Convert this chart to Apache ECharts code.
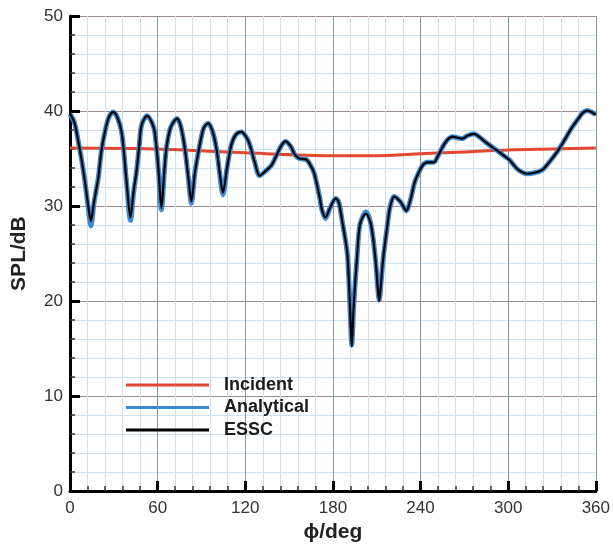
<!DOCTYPE html>
<html>
<head>
<meta charset="utf-8">
<script src="https://cdn.jsdelivr.net/npm/echarts@6/dist/echarts.min.js"></script>
<style>
html,body{margin:0;padding:0;background:#fff;}
#c{width:613px;height:548px;}
</style>
</head>
<body>
<div id="c"></div>
<script>
// ---- data ----
const xTicks = [0, 60, 120, 180, 240, 300, 360];
const yTicks = [0, 10, 20, 30, 40, 50];

const phiIncident = [0, 60, 120, 180, 210, 240, 270, 300, 330, 360];
const splIncident = [36.1, 36.0, 35.6, 35.3, 35.3, 35.5, 35.7, 35.9, 36.0, 36.1];

const phiESSC = [0, 3, 5.7, 8, 10.2, 12.5, 14.3, 16.5, 19.4, 21.5, 23.9, 26.5, 29.6, 32.5, 35.3, 37, 38.7, 41.4, 43.5, 45.5, 47.5, 49, 52.8, 56, 58, 60.5, 62.6, 64.5, 66, 69, 73.3, 76, 78.6, 81, 83.1, 85.5, 88.8, 91.5, 94.5, 97.5, 100.2, 102.5, 104.7, 107.5, 110.4, 113.5, 117.3, 120.5, 123, 126.5, 129.8, 134, 138, 141, 144.5, 147.5, 151, 154, 157, 161.7, 165, 167.3, 170.8, 172.5, 174.9, 178, 182, 184, 186.5, 189, 190.1, 191.7, 192.9, 194.2, 196.5, 198.6, 202.6, 206, 209, 210.8, 211.7, 213, 214.5, 217.4, 219, 222, 226.5, 230.2, 233, 236, 239, 241.5, 244.5, 249, 252, 255, 258, 261.8, 265, 268.7, 272, 276.6, 280, 284, 289.1, 293.7, 297, 300.5, 302.8, 307, 313, 318, 323.3, 328, 333.5, 338, 343.8, 348, 351, 354, 357, 360];
const splESSC = [39.7, 38.8, 36.8, 34.8, 32.6, 30.0, 28.4, 30.5, 33.0, 35.8, 37.8, 39.3, 39.9, 39.3, 37.8, 35.5, 32.6, 28.8, 31.5, 33.6, 36.5, 38.5, 39.5, 38.8, 37.8, 34.0, 29.8, 33.5, 36.1, 38.3, 39.2, 38.3, 36.1, 33.0, 30.5, 33.5, 36.4, 38.2, 38.7, 37.9, 36.1, 33.5, 31.4, 34.0, 36.4, 37.5, 37.8, 37.3, 36.5, 34.6, 33.2, 33.7, 34.3, 35.2, 36.3, 36.8, 36.3, 35.4, 35.0, 34.9, 34.2, 33.4, 31.0, 29.6, 28.8, 29.8, 30.8, 30.4, 28.3, 26.0, 24.6, 19.4, 15.2, 19.4, 24.6, 28.1, 29.2, 28.1, 24.6, 21.2, 20.0, 22.0, 24.6, 28.1, 29.8, 31.0, 30.4, 29.5, 30.6, 32.5, 33.6, 34.3, 34.6, 34.6, 35.3, 36.2, 36.9, 37.3, 37.2, 37.1, 37.4, 37.6, 37.3, 36.8, 36.2, 35.7, 35.3, 34.9, 34.5, 33.8, 33.4, 33.5, 33.8, 34.6, 35.7, 36.8, 38.3, 39.2, 39.8, 40.05, 39.9, 39.6];

const phiAnalytical = phiESSC;
const splAnalytical = [39.7, 38.8, 36.8, 34.8, 32.6, 29.8, 27.9, 30.4, 33.0, 35.8, 37.8, 39.3, 39.9, 39.3, 37.8, 35.5, 32.5, 28.5, 31.4, 33.6, 36.5, 38.5, 39.5, 38.8, 37.8, 33.9, 29.6, 33.4, 36.1, 38.3, 39.2, 38.3, 36.1, 33.0, 30.3, 33.5, 36.4, 38.2, 38.7, 37.9, 36.1, 33.4, 31.2, 34.0, 36.4, 37.5, 37.8, 37.3, 36.5, 34.6, 33.2, 33.7, 34.3, 35.2, 36.3, 36.8, 36.3, 35.4, 35.0, 34.9, 34.2, 33.4, 31.0, 29.6, 28.7, 29.8, 30.8, 30.4, 28.3, 26.0, 24.6, 19.4, 15.4, 19.4, 24.6, 28.1, 29.4, 28.1, 24.6, 21.2, 20.1, 22.0, 24.6, 28.1, 29.8, 31.0, 30.4, 29.5, 30.6, 32.5, 33.6, 34.3, 34.6, 34.6, 35.3, 36.2, 36.9, 37.3, 37.2, 37.1, 37.4, 37.6, 37.3, 36.8, 36.2, 35.7, 35.3, 34.9, 34.5, 33.8, 33.4, 33.5, 33.8, 34.6, 35.7, 36.8, 38.3, 39.2, 39.8, 40.05, 39.9, 39.6];

const seriesNames = ['Incident', 'Analytical', 'ESSC'];

function pairs(xs, ys) { return xs.map((x, i) => [x, ys[i]]); }

const chart = echarts.init(document.getElementById('c'), null, {renderer: 'canvas'});
const font = '"Liberation Sans", Arial, Helvetica, sans-serif';

chart.setOption({
  animation: false,
  backgroundColor: '#ffffff',
  grid: {left: 70, right: 16, top: 16, bottom: 51, containLabel: false},
  legend: {
    data: seriesNames,
    orient: 'vertical',
    left: 121,
    top: 371,
    icon: 'rect',
    itemWidth: 83,
    itemHeight: 3,
    itemGap: 4.5,
    textStyle: {fontFamily: font, fontWeight: 'bold', fontSize: 18, color: '#1a1a1a', lineHeight: 18, padding: [0, 0, 0, 10]}
  },
  xAxis: {
    type: 'value', min: xTicks[0], max: xTicks[xTicks.length - 1], interval: 60,
    name: 'ϕ/deg', nameLocation: 'middle', nameGap: 26,
    nameTextStyle: {fontFamily: font, fontWeight: 'bold', fontSize: 21, color: '#222'},
    axisLine: {show: true, onZero: false, lineStyle: {color: '#000', width: 3}},
    axisTick: {show: true, inside: true, length: 10, lineStyle: {color: '#000', width: 3}},
    minorTick: {show: true, splitNumber: 5, length: 5, lineStyle: {color: '#333', width: 1.5}},
    axisLabel: {fontFamily: font, fontSize: 17, color: '#333', margin: 9},
    splitLine: {show: true, lineStyle: {color: '#7f98a6', width: 1}},
    minorSplitLine: {show: true, lineStyle: {color: '#cfe1ee', width: 1}}
  },
  yAxis: {
    type: 'value', min: yTicks[0], max: yTicks[yTicks.length - 1], interval: 10,
    name: 'SPL/dB', nameLocation: 'middle', nameGap: 40, nameRotate: 90,
    nameTextStyle: {fontFamily: font, fontWeight: 'bold', fontSize: 21, color: '#222'},
    axisLine: {show: true, onZero: false, lineStyle: {color: '#000', width: 3}},
    axisTick: {show: true, inside: true, length: 10, lineStyle: {color: '#000', width: 3}},
    minorTick: {show: true, splitNumber: 5, length: 5, lineStyle: {color: '#333', width: 1.5}},
    axisLabel: {fontFamily: font, fontSize: 17, color: '#333', margin: 7},
    splitLine: {show: true, lineStyle: {color: '#9a8a8c', width: 1}},
    minorSplitLine: {show: true, lineStyle: {color: '#cfe1ee', width: 1}}
  },
  series: [
    {name: seriesNames[0], type: 'line', data: pairs(phiIncident, splIncident), showSymbol: false, smooth: 0.3,
     lineStyle: {color: '#e3472f', width: 3}, itemStyle: {color: '#e3472f'}, z: 3},
    {name: seriesNames[1], type: 'line', data: pairs(phiAnalytical, splAnalytical), showSymbol: false, smooth: 0.3,
     lineStyle: {color: '#3a8ad6', width: 5}, itemStyle: {color: '#3a8ad6'}, z: 4},
    {name: seriesNames[2], type: 'line', data: pairs(phiESSC, splESSC), showSymbol: false, smooth: 0.3,
     lineStyle: {color: '#000000', width: 2.2}, itemStyle: {color: '#000000'}, z: 5}
  ]
});
</script>
</body>
</html>
